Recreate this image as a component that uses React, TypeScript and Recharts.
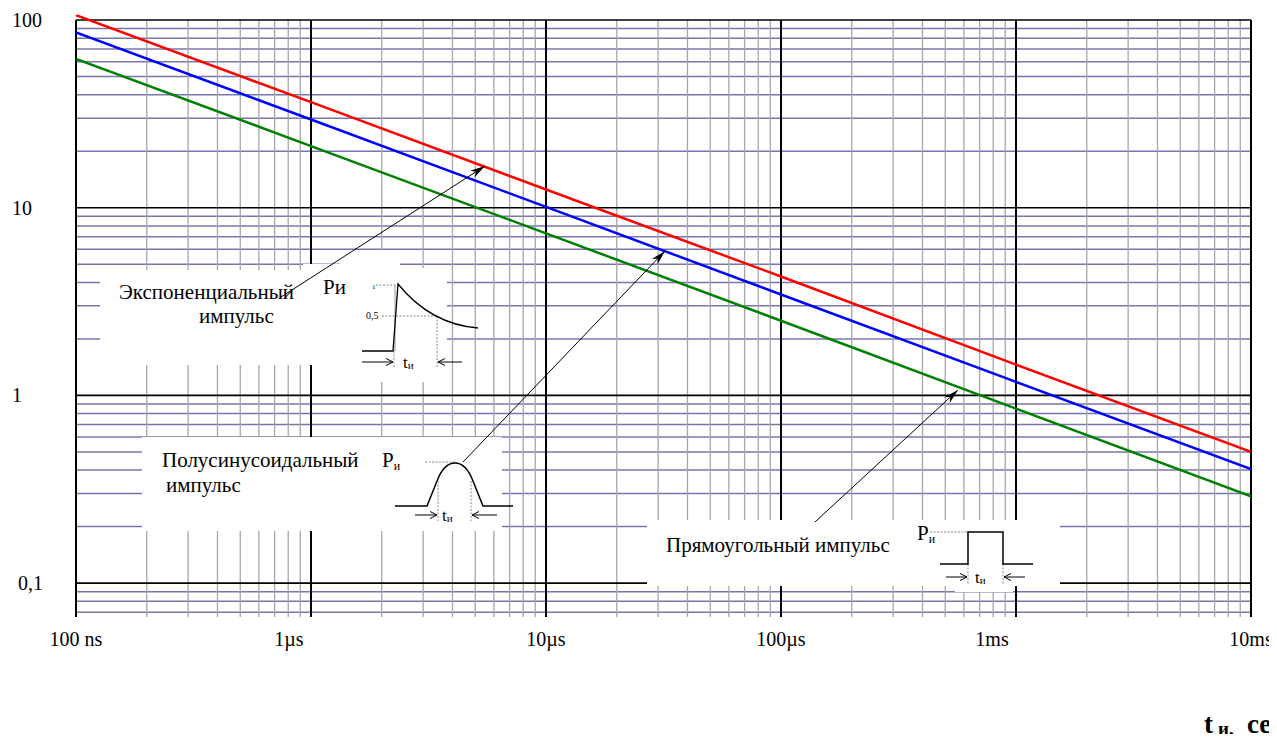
import React from 'react';
import { LineChart, Line, XAxis, YAxis, ReferenceLine } from 'recharts';

// pulse duration, s
const durations = [1e-7, 1e-6, 1e-5, 1e-4, 1e-3, 1e-2];
// pulse power for each pulse shape
const exponential = [106, 36.5, 12.5, 4.3, 1.46, 0.5];
const halfSine = [86, 29.5, 10.1, 3.45, 1.18, 0.405];
const rectangular = [62, 21.3, 7.3, 2.5, 0.85, 0.29];

const timeTicks = [1e-7, 1e-6, 1e-5, 1e-4, 1e-3, 1e-2];
const timeLabels = ['100 ns', '1µs', '10µs', '100µs', '1ms', '10ms'];
const powerTicks = [0.1, 1, 10, 100];
const powerLabels = ['0,1', '1', '10', '100'];
const minorSteps = [2, 3, 4, 5, 6, 7, 8, 9];
const lowMinor = [0.07, 0.08, 0.09];

const Y_MIN = 0.066;
const Y_MAX = 107;
const FONT = 'Liberation Serif';

const data = durations.map((t, i) => ({
  t,
  exp: exponential[i],
  half: halfSine[i],
  rect: rectangular[i],
}));

const vMinor = timeTicks.slice(0, -1).flatMap(d => minorSteps.map(m => m * d));
const hMinor = [...lowMinor, ...powerTicks.slice(0, -1).flatMap(d => minorSteps.map(m => m * d))];

const same = (a: number, b: number) => Math.abs(Math.log10(a / b)) < 1e-6;

// some labels in the original sit left of their grid line
const labelShift: Record<string, number> = { '1µs': -22, '1ms': -24 };

const TimeTick = (props: any) => {
  const { x, y, payload } = props;
  const i = timeTicks.findIndex(v => same(v, payload.value));
  const label = timeLabels[i] ?? '';
  return (
    <text x={x + (labelShift[label] || 0)} y={y + 29} textAnchor="middle" fontFamily={FONT} fontSize={20} fill="#000">
      {label}
    </text>
  );
};

const PowerTick = (props: any) => {
  const { y, payload } = props;
  const i = powerTicks.findIndex(v => same(v, payload.value));
  const label = powerLabels[i] ?? '';
  return (
    <text x={label === '0,1' ? 10 : 4} y={y + 7} textAnchor="start" fontFamily={FONT} fontSize={20} fill="#000">
      {label}
    </text>
  );
};

const headPoints = (x1: number, y1: number, x2: number, y2: number, len: number, w: number) => {
  const d = Math.hypot(x2 - x1, y2 - y1);
  const ux = (x2 - x1) / d;
  const uy = (y2 - y1) / d;
  const nx = -uy;
  const ny = ux;
  const bx = x2 - ux * len;
  const by = y2 - uy * len;
  const mx = x2 - ux * len * 0.7;
  const my = y2 - uy * len * 0.7;
  return `${x2},${y2} ${bx + nx * w},${by + ny * w} ${mx},${my} ${bx - nx * w},${by - ny * w}`;
};

const Arrow = ({ x1, y1, x2, y2 }: { x1: number; y1: number; x2: number; y2: number }) => (
  <g>
    <line x1={x1} y1={y1} x2={x2} y2={y2} stroke="#000" strokeWidth={1} />
    <polygon points={headPoints(x1, y1, x2, y2, 15, 4)} fill="#000" />
  </g>
);

const SmallArrow = ({ x1, x2, y }: { x1: number; x2: number; y: number }) => {
  const s = x2 > x1 ? -1 : 1;
  return (
    <g stroke="#000" strokeWidth={1} fill="none">
      <line x1={x1} y1={y} x2={x2} y2={y} />
      <polyline points={`${x2 + s * 7},${y - 3.5} ${x2},${y} ${x2 + s * 7},${y + 3.5}`} />
    </g>
  );
};

const Dotted = ({ x1, y1, x2, y2 }: { x1: number; y1: number; x2: number; y2: number }) => (
  <line x1={x1} y1={y1} x2={x2} y2={y2} stroke="#888" strokeWidth={1} strokeDasharray="2 1.5" />
);

const TI = ({ x, y }: { x: number; y: number }) => (
  <text x={x} y={y} fontFamily={FONT} fontSize={17} fill="#000">
    t<tspan fontSize={11} dy={1}>и</tspan>
  </text>
);

const whiteBoxes = [
  [100, 270, 347, 95],
  [303, 264, 97, 10],
  [340, 250, 60, 132],
  [400, 268, 47, 114],
  [142, 437, 360, 94],
  [647, 520, 413, 66],
  [955, 586, 58, 6],
];

const Annotations = () => (
  <svg width={1269} height={726} style={{ position: 'absolute', left: 0, top: 0, overflow: 'visible', pointerEvents: 'none' }}>
    <g transform="translate(-8,-8)">
      {whiteBoxes.map(([x, y, w, h], i) => (
        <rect key={i} x={x} y={y} width={w} height={h} fill="#fff" />
      ))}

      {/* exponential pulse */}
      <text x={119} y={299} fontFamily={FONT} fontSize={21}>Экспоненциальный</text>
      <text x={199} y={323} fontFamily={FONT} fontSize={21}>импульс</text>
      <text x={323} y={294} fontFamily={FONT} fontSize={21}>Ри</text>
      <text x={372} y={289} fontFamily={FONT} fontSize={7}>1</text>
      <text x={366} y={319} fontFamily={FONT} fontSize={10}>0,5</text>
      <Dotted x1={376} y1={285} x2={397} y2={285} />
      <Dotted x1={382} y1={316} x2={437} y2={316} />
      <Dotted x1={437} y1={316} x2={437} y2={368} />
      <Dotted x1={394} y1={351} x2={394} y2={368} />
      <line x1={395} y1={285} x2={395} y2={351} stroke="#999" strokeWidth={1} />
      <path d="M362,351 L393,351 L398,284 C415,305 440,325 478,328" stroke="#000" strokeWidth={1.3} fill="none" />
      <SmallArrow x1={362} x2={393} y={362} />
      <SmallArrow x1={462} x2={438} y={362} />
      <TI x={403} y={368} />
      <Arrow x1={281} y1={297} x2={485} y2={166} />

      {/* half-sine pulse */}
      <text x={162} y={467} fontFamily={FONT} fontSize={21}>Полусинусоидальный</text>
      <text x={166} y={492} fontFamily={FONT} fontSize={21}>импульс</text>
      <text x={382} y={467} fontFamily={FONT} fontSize={21}>
        P<tspan fontSize={12} dy={3}>и</tspan>
      </text>
      <Dotted x1={425} y1={462} x2={455} y2={462} />
      <Dotted x1={438} y1={481} x2={438} y2={521} />
      <Dotted x1={471} y1={481} x2={471} y2={521} />
      <path
        d="M395,506 L427,506 L437,481 C442,468 449,463 455,463 C461,463 468,468 473,481 L483,506 L513,506"
        stroke="#000"
        strokeWidth={1.5}
        fill="none"
      />
      <SmallArrow x1={415} x2={437} y={515} />
      <SmallArrow x1={497} x2={472} y={515} />
      <TI x={442} y={521} />
      <Arrow x1={463} y1={462} x2={665} y2={251} />

      {/* rectangular pulse */}
      <text x={666} y={552} fontFamily={FONT} fontSize={21}>Прямоугольный импульс</text>
      <text x={917} y={540} fontFamily={FONT} fontSize={21}>
        P<tspan fontSize={12} dy={3}>и</tspan>
      </text>
      <Dotted x1={930} y1={532} x2={968} y2={532} />
      <Dotted x1={968} y1={564} x2={968} y2={584} />
      <Dotted x1={1003} y1={564} x2={1003} y2={584} />
      <path d="M940,564 L968,564 L968,532 L1003,532 L1003,564 L1033,564" stroke="#000" strokeWidth={1.5} fill="none" />
      <SmallArrow x1={946} x2={967} y={577} />
      <SmallArrow x1={1025} x2={1004} y={577} />
      <TI x={975} y={583} />
      <Arrow x1={815} y1={522} x2={958} y2={390} />

      {/* axis title */}
      <text x={1204} y={733} fontFamily={FONT} fontSize={27} fontWeight="bold">t</text>
      <text x={1218} y={735} fontFamily={FONT} fontSize={19} fontWeight="bold">и,</text>
      <text x={1247} y={733} fontFamily={FONT} fontSize={27} fontWeight="bold">се</text>
    </g>
  </svg>
);

export default function App() {
  return (
    <div style={{ position: 'relative', width: 1269, height: 726 }}>
      <LineChart width={1269} height={726} data={data} margin={{ top: 6.5, right: 26, bottom: 87, left: 0 }}>
        <XAxis
          dataKey="t"
          type="number"
          scale="log"
          domain={[1e-7, 1e-2]}
          allowDataOverflow
          ticks={timeTicks}
          tick={<TimeTick />}
          tickSize={0}
          tickMargin={0}
          axisLine={false}
          tickLine={false}
          height={30}
          interval={0}
        />
        <YAxis
          type="number"
          scale="log"
          domain={[Y_MIN, Y_MAX]}
          allowDataOverflow
          ticks={powerTicks}
          tick={<PowerTick />}
          tickSize={0}
          tickMargin={0}
          axisLine={false}
          tickLine={false}
          width={68}
          interval={0}
        />
        {hMinor.map(v => (
          <ReferenceLine key={'h' + v} y={v} stroke="#7676AE" strokeWidth={1.5} zIndex={-50} />
        ))}
        {vMinor.map(v => (
          <ReferenceLine
            key={'v' + v}
            segment={[{ x: v, y: Y_MIN }, { x: v, y: 100 }]}
            stroke="#A6A6A6"
            strokeWidth={1.3}
            zIndex={-50}
          />
        ))}
        {powerTicks.map(v => (
          <ReferenceLine key={'H' + v} y={v} stroke="#000" strokeWidth={1.6} zIndex={-40} />
        ))}
        {timeTicks.map(v => (
          <ReferenceLine
            key={'V' + v}
            segment={[{ x: v, y: Y_MIN }, { x: v, y: 100 }]}
            stroke="#000"
            strokeWidth={2}
            zIndex={-40}
          />
        ))}
        <Line type="linear" dataKey="exp" stroke="#FF0000" strokeWidth={2.5} dot={false} isAnimationActive={false} />
        <Line type="linear" dataKey="half" stroke="#0000FF" strokeWidth={2.5} dot={false} isAnimationActive={false} />
        <Line type="linear" dataKey="rect" stroke="#008000" strokeWidth={2.5} dot={false} isAnimationActive={false} />
      </LineChart>
      <Annotations />
    </div>
  );
}
